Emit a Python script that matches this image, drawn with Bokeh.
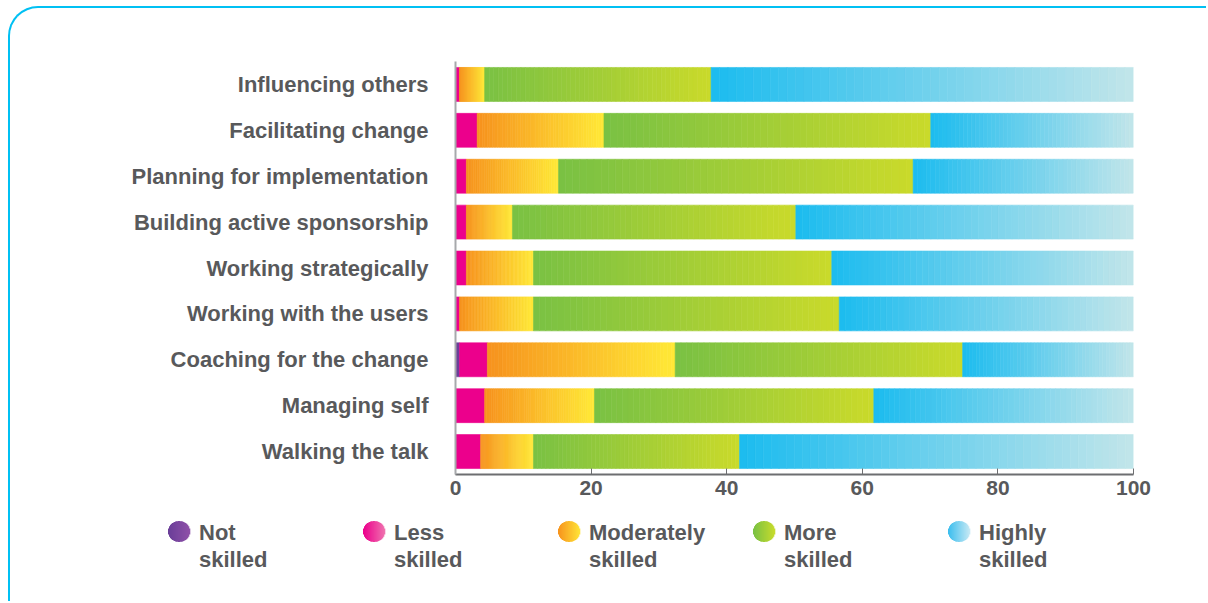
from bokeh.plotting import figure
from bokeh.models import FactorRange, Range1d, ColumnDataSource, FixedTicker
from bokeh.core.properties import value
from bokeh.embed import file_html
from bokeh.resources import INLINE
import math

# ---------------- data ----------------
categories = ["Influencing others", "Facilitating change", "Planning for implementation",
              "Building active sponsorship", "Working strategically", "Working with the users",
              "Coaching for the change", "Managing self", "Walking the talk"]
not_skilled = [0, 0, 0, 0, 0, 0, 0.6, 0, 0]
less_skilled = [0.6, 3.2, 1.6, 1.6, 1.6, 0.6, 4.1, 4.3, 3.7]
moderately_skilled = [3.7, 18.7, 13.6, 6.8, 9.9, 10.9, 27.7, 16.2, 7.8]
more_skilled = [33.4, 48.2, 52.3, 41.8, 44.0, 45.1, 42.4, 41.2, 30.4]
highly_skilled = [62.3, 29.9, 32.5, 49.8, 44.5, 43.4, 25.2, 38.3, 58.1]
series_names = ["Not\nskilled", "Less\nskilled", "Moderately\nskilled", "More\nskilled", "Highly\nskilled"]
x_ticks = [0, 20, 40, 60, 80, 100]

# ---------------- styles ----------------
TEXT = "#58595B"
FONT = "Liberation Sans"
grad = [("#6B3F98", "#6B3F98"), ("#EC008C", "#EC008C"), ("#F7931E", "#FFE836"),
        ("#7AC143", "#C9DA2B"), ("#1DBCEF", "#C0E5EA")]
legend_grad = [("#6A3E98", "#8E50A8"), ("#EC008C", "#EF70AE"), ("#F7941D", "#FFE236"),
               ("#7AC143", "#C6DB2C"), ("#3DBEEE", "#C4E8F4")]
NSLICE = 50


def hex2rgb(h):
    h = h.lstrip("#")
    return tuple(int(h[i:i + 2], 16) for i in (0, 2, 4))


def mix(c1, c2, t):
    a, b = hex2rgb(c1), hex2rgb(c2)
    return "#%02x%02x%02x" % tuple(int(round(a[i] + (b[i] - a[i]) * t)) for i in range(3))


series = [not_skilled, less_skilled, moderately_skilled, more_skilled, highly_skilled]

lefts, rights, ys, cols = [], [], [], []
for ci, cat in enumerate(categories):
    start = 0.0
    for si, vals in enumerate(series):
        v = vals[ci]
        if v > 0:
            c1, c2 = grad[si]
            n = 1 if c1 == c2 else NSLICE
            for k in range(n):
                lefts.append(start + v * k / n)
                rights.append(start + v * (k + 1) / n)
                ys.append(cat)
                cols.append(mix(c1, c2, k / max(n - 1, 1)))
        start += v

src = ColumnDataSource(dict(left=lefts, right=rights, y=ys, color=cols))

# main chart (canvas offset by the card border: 10px left, 8px top)
p = figure(width=1198, height=505, output_backend="svg", toolbar_location=None,
           x_range=Range1d(0, 100), y_range=FactorRange(*reversed(categories)),
           min_border_left=445, min_border_right=75, min_border_top=53, min_border_bottom=39)
p.styles = {"margin-left": "8px", "margin-top": "6px",
            "border-top": "2px solid #00C0F3", "border-left": "2px solid #00C0F3",
            "border-top-left-radius": "30px"}
p.hbar(y="y", left="left", right="right", height=0.74, source=src,
       fill_color="color", line_color="color", line_width=0.6)

p.xgrid.visible = False
p.ygrid.visible = False
p.outline_line_color = None
p.background_fill_color = "white"
p.border_fill_alpha = 0

p.xaxis.ticker = FixedTicker(ticks=x_ticks)
p.xaxis.major_tick_in = 6
p.xaxis.major_tick_out = 0
p.xaxis.minor_tick_line_color = None
p.xaxis.axis_line_color = "#6D6E71"
p.xaxis.axis_line_width = 2
p.xaxis.major_tick_line_color = "#6D6E71"
p.xaxis.major_label_text_font = FONT
p.xaxis.major_label_text_font_style = "bold"
p.xaxis.major_label_text_font_size = "21px"
p.xaxis.major_label_text_color = TEXT
p.xaxis.major_label_standoff = 6

p.yaxis.major_tick_line_color = None
p.yaxis.minor_tick_line_color = None
p.yaxis.axis_line_color = "#A7A9AC"
p.yaxis.axis_line_width = 2
p.yaxis.major_label_text_font = FONT
p.yaxis.major_label_text_font_style = "bold"
p.yaxis.major_label_text_font_size = "22px"
p.yaxis.major_label_text_color = TEXT
p.yaxis.major_label_standoff = 21

# legend strip: a separate root whose frame is in screen pixels (y downwards)
q = figure(width=1198, height=90, output_backend="svg", toolbar_location=None,
           x_range=Range1d(0, 1198), y_range=Range1d(90, 0),
           x_axis_location=None, y_axis_location=None,
           min_border_left=0, min_border_right=0, min_border_top=0, min_border_bottom=0)
q.styles = {"margin-left": "8px", "border-left": "2px solid #00C0F3"}
q.xgrid.visible = False
q.ygrid.visible = False
q.outline_line_color = None
q.background_fill_alpha = 0
q.border_fill_alpha = 0

ITEM0, ITEM_STEP, BLOB_Y, BLOB_R = 168.5, 195, 20, 11
bl, br, bt, bb, bc = [], [], [], [], []
tx, ty, tt = [], [], []
for i, (name, (c1, c2)) in enumerate(zip(series_names, legend_grad)):
    cx = ITEM0 + i * ITEM_STEP
    nstrip = 22
    for k in range(nstrip):
        x0 = cx - BLOB_R + 2 * BLOB_R * k / nstrip
        x1 = cx - BLOB_R + 2 * BLOB_R * (k + 1) / nstrip
        xm = (x0 + x1) / 2 - cx
        h = math.sqrt(max(BLOB_R ** 2 - xm ** 2, 0)) * 0.95
        bl.append(x0)
        br.append(x1 + 0.3)
        bt.append(BLOB_Y - h)
        bb.append(BLOB_Y + h)
        bc.append(mix(c1, c2, k / (nstrip - 1)))
    tx.append(cx + 20)
    ty.append(8)
    tt.append(name)

q.quad(left=bl, right=br, top=bt, bottom=bb, fill_color=bc, line_color=None)
q.text(x=tx, y=ty, text=tt, text_font=value(FONT), text_font_style="bold",
       text_font_size=value("22px"), text_color=TEXT, text_baseline="top",
       text_align="left", text_line_height=1.08)

open("out.html", "w").write(file_html([p, q], INLINE))
